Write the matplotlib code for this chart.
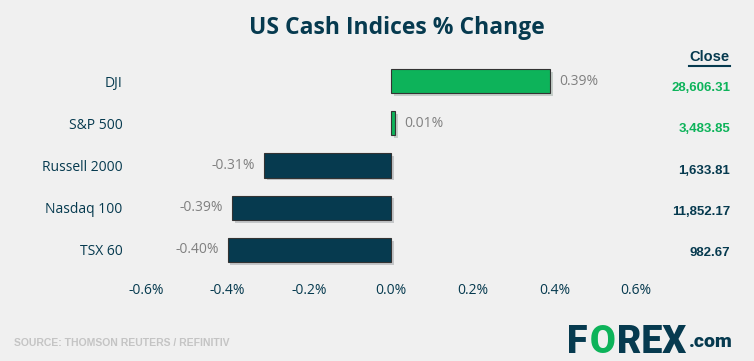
import matplotlib
matplotlib.use("Agg")
import matplotlib.pyplot as plt
import matplotlib.patheffects as pe

categories = ["DJI", "S&P 500", "Russell 2000", "Nasdaq 100", "TSX 60"]
changes = [0.39, 0.01, -0.31, -0.39, -0.40]
change_labels = ["0.39%", "0.01%", "-0.31%", "-0.39%", "-0.40%"]
closes = ["28,606.31", "3,483.85", "1,633.81", "11,852.17", "982.67"]
xticks = [-0.6, -0.4, -0.2, 0.0, 0.2, 0.4, 0.6]
xtick_labels = ["-0.6%", "-0.4%", "-0.2%", "0.0%", "0.2%", "0.4%", "0.6%"]

BG = "#f0f0f0"
GREEN = "#0db35a"
NAVY = "#063a4f"
GREY = "#808080"

W, H = 754, 361
fig = plt.figure(figsize=(W / 100, H / 100), dpi=100, facecolor=BG)
ax = fig.add_axes([146 / W, 1 - 271 / H, 490 / W, 211 / H], facecolor=BG)

ypos = list(range(len(categories)))
colors = [GREEN if v >= 0 else NAVY for v in changes]
bars = ax.barh(ypos, changes, height=0.57, color=colors, edgecolor="#333333",
               linewidth=0.8, zorder=3)
for b in bars:
    b.set_path_effects([pe.SimplePatchShadow(offset=(2, -2), alpha=0.18), pe.Normal()])

ax.set_xlim(-0.6, 0.6)
ax.set_ylim(len(categories) - 0.5, -0.5)
ax.set_xticks(xticks)
ax.set_xticklabels(xtick_labels, fontfamily="Open Sans", fontsize=10, color=NAVY)
ax.set_yticks(ypos)
ax.set_yticklabels(categories, fontfamily="Open Sans", fontsize=10, color=NAVY)
ax.tick_params(axis="x", length=0, pad=9)
ax.tick_params(axis="y", length=0, pad=17)
for s in ax.spines.values():
    s.set_visible(False)

for y, v, lab in zip(ypos, changes, change_labels):
    if v >= 0:
        ax.text(v + 0.022, y, lab, ha="left", va="center", fontsize=10,
                fontfamily="Open Sans", color=GREY)
    else:
        ax.text(v - 0.022, y, lab, ha="right", va="center", fontsize=10,
                fontfamily="Open Sans", color=GREY)

# Close column
fig.text(730 / W, 1 - 57 / H, "Close", ha="right", va="center", fontsize=10.5,
         fontweight="bold", fontfamily="Liberation Sans", color=NAVY)
fig.add_artist(plt.Line2D([689 / W, 730 / W], [1 - 66 / H, 1 - 66 / H],
                          color=NAVY, linewidth=1.5))
for y, v, c in zip(ypos, changes, closes):
    yp = 88 + y * 41.3
    fig.text(730 / W, 1 - yp / H, c, ha="right", va="center", fontsize=9.5,
             fontweight="bold", fontfamily="Liberation Sans",
             color=GREEN if v > 0 else NAVY)

# Title
fig.text(397 / W, 1 - 34 / H, "US Cash Indices % Change", ha="center",
         va="baseline", fontsize=16.5, fontweight="bold",
         fontfamily="Open Sans", color=NAVY)

# Source
fig.text(14 / W, 1 - 346 / H, "SOURCE: THOMSON REUTERS / REFINITIV", ha="left",
         va="baseline", fontsize=7.5, fontweight="bold",
         fontfamily=["DejaVu Sans Condensed", "Liberation Sans"],
         fontstretch="condensed", color="#c4c4c4")

# Logo: place pieces sequentially
renderer = fig.canvas.get_renderer()
x = 567.0
base = 1 - 353 / H
for txt, col, fs in [("F", NAVY, 27), ("O", GREEN, 27), ("REX", NAVY, 27), (".com", NAVY, 14)]:
    t = fig.text(x / W, base, txt, ha="left", va="baseline", fontsize=fs,
                 fontweight="heavy", fontfamily="Roboto", color=col)
    bb = t.get_window_extent(renderer=renderer)
    x += bb.width + 2
    if txt == "REX":
        base = 1 - 347 / H

fig.savefig("out.png", dpi=100, facecolor=BG)
